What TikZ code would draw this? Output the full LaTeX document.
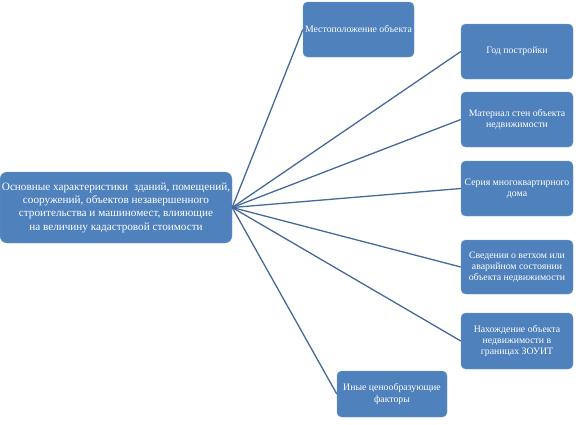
\documentclass[tikz,border=0pt]{standalone}
\usepackage{fontspec}
\setmainfont{Liberation Serif}
\usepackage{xcolor}
\definecolor{factorFill}{HTML}{4F81BD}
\definecolor{factorBorder}{HTML}{7A9CCB}
\definecolor{factorLine}{HTML}{44699A}
\usetikzlibrary{positioning}
\tikzset{
    mainbox/.style={
        draw=factorBorder,
        fill=factorFill,
        rectangle,
        rounded corners=2.5mm,
        align=center,
        text=white,
        minimum height=71pt,
        minimum width=232pt,
        inner sep=1pt,
        font=\fontsize{11.2}{13.3}\selectfont
    },
    factor/.style={
        draw=factorBorder,
        fill=factorFill,
        rectangle,
        rounded corners=1.6mm,
        align=center,
        text=white,
        minimum height=55pt,
        minimum width=112pt,
        inner sep=1pt,
        font=\fontsize{9.8}{11.3}\selectfont
    },
    link/.style={
        line width=1.3pt,
        color=factorLine
    }
}

\begin{document}
\begin{tikzpicture}[x=1pt,y=-1pt]
    \useasboundingbox (0,0) rectangle (578,424);
    % Central concept
    \node[mainbox] (core) at (116,207.5) {Основные характеристики\ \ зданий, помещений,\\сооружений, объектов незавершенного\\строительства и машиномест, влияющие\\на величину кадастровой стоимости};

    % Factors
    \node[factor, minimum width=111pt] (place) at (358.5,29.5) {Местоположение объекта};
    \node[factor] (year) at (517,51.5) {Год постройки};
    \node[factor] (walls) at (517,119.5) {Материал стен объекта\\недвижимости};
    \node[factor] (series) at (517,188.5) {Серия многоквартирного\\дома};
    \node[factor, minimum height=54pt] (state) at (517,267) {Сведения о ветхом или\\аварийном состоянии\\объекта недвижимости};
    \node[factor, minimum height=56pt] (zone) at (517,341) {Нахождение объекта\\недвижимости в\\границах ЗОУИТ};
    \node[factor, minimum width=110pt, minimum height=46pt] (other) at (392,394) {Иные ценообразующие\\факторы};

    % Connections
    \foreach \f in {place,year,walls,series,state,zone,other}
        \draw[link] (core.east) -- (\f.west);
\end{tikzpicture}
\end{document}
